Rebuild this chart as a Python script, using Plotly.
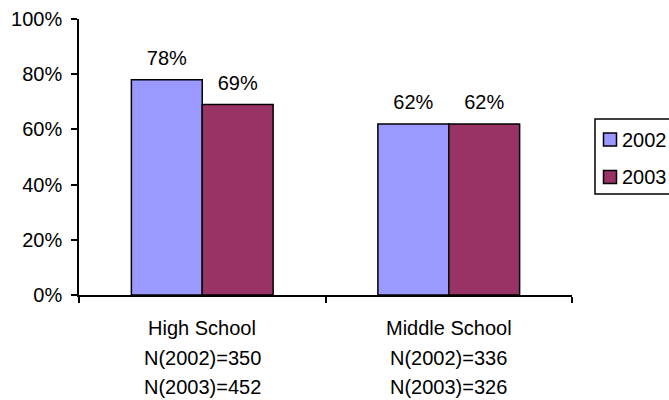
import plotly.graph_objects as go

categories = ["High School", "Middle School"]
label_lines = [
    ["High School", "N(2002)=350", "N(2003)=452"],
    ["Middle School", "N(2002)=336", "N(2003)=326"],
]
values_2002 = [78, 62]
values_2003 = [69, 62]
y_ticks = [0, 20, 40, 60, 80, 100]

FONT = "Liberation Sans, Arial, sans-serif"
FS = 20
W, H = 669, 400
M_L, M_R, M_T, M_B = 79, 97, 19, 105
PW, PH = W - M_L - M_R, H - M_T - M_B

series = [
    ("2002", values_2002, "#9999FF"),
    ("2003", values_2003, "#993366"),
]


def px_x(px):
    """Pixel column -> paper x."""
    return (px - M_L) / PW


def px_y(py):
    """Pixel row -> paper y."""
    return (H - M_B - py) / PH


fig = go.Figure()
for name, vals, color in series:
    fig.add_trace(go.Bar(
        name=name, x=categories, y=vals, offsetgroup=name,
        marker=dict(color=color, line=dict(color="black", width=1.5)),
        showlegend=False,
    ))
for name, vals, color in series:
    # value labels floating above each bar
    fig.add_trace(go.Scatter(
        x=categories, y=vals, mode="markers+text",
        offsetgroup=name, showlegend=False, hoverinfo="skip",
        marker=dict(size=14, opacity=0),
        text=[f"{v}%" for v in vals], textposition="top center",
        textfont=dict(size=FS, color="black", family=FONT), cliponaxis=False,
    ))

# Multi-line category labels with wide line spacing
for cat, lines in zip(categories, label_lines):
    for i, line in enumerate(lines):
        fig.add_annotation(
            x=cat, xref="x", y=0, yref="paper", yanchor="middle",
            yshift=-33 - 29.5 * i, text=line, showarrow=False,
            font=dict(size=FS, color="black", family=FONT),
        )

# Legend box running off the right edge
fig.add_shape(type="rect", xref="paper", yref="paper",
              x0=px_x(595), x1=px_x(720), y0=px_y(194), y1=px_y(119),
              line=dict(color="black", width=1.5), fillcolor="white", layer="above")
for i, (name, vals, color) in enumerate(series):
    cy = 139.5 + 37.5 * i
    fig.add_shape(type="rect", xref="paper", yref="paper",
                  x0=px_x(603.5), x1=px_x(616.5), y0=px_y(cy + 6.5), y1=px_y(cy - 6.5),
                  line=dict(color="black", width=1.5), fillcolor=color, layer="above")
    fig.add_annotation(x=px_x(620), y=px_y(cy), xref="paper", yref="paper",
                       xanchor="left", yanchor="middle", text=name, showarrow=False,
                       font=dict(size=FS, color="black", family=FONT))

fig.update_layout(
    width=W, height=H,
    margin=dict(l=M_L, r=M_R, t=M_T, b=M_B, autoexpand=False),
    paper_bgcolor="white", plot_bgcolor="white",
    barmode="group", scattermode="group", bargap=0.425, bargroupgap=0,
    font=dict(family=FONT, size=FS, color="black"),
    showlegend=False,
)
fig.update_xaxes(
    showline=True, linecolor="black", linewidth=1.5,
    ticks="outside", tickson="boundaries", ticklen=6, tickcolor="black", tickwidth=1.5,
    showticklabels=False, showgrid=False,
)
fig.update_yaxes(
    range=[0, 100], tickvals=y_ticks, ticktext=[f"{v}%" for v in y_ticks],
    showline=True, linecolor="black", linewidth=1.5,
    ticks="outside", ticklen=6, tickcolor="black", tickwidth=1.5,
    ticklabelstandoff=5,
    showgrid=False, zeroline=False, tickfont=dict(size=FS),
)

fig.write_html("out.html")
